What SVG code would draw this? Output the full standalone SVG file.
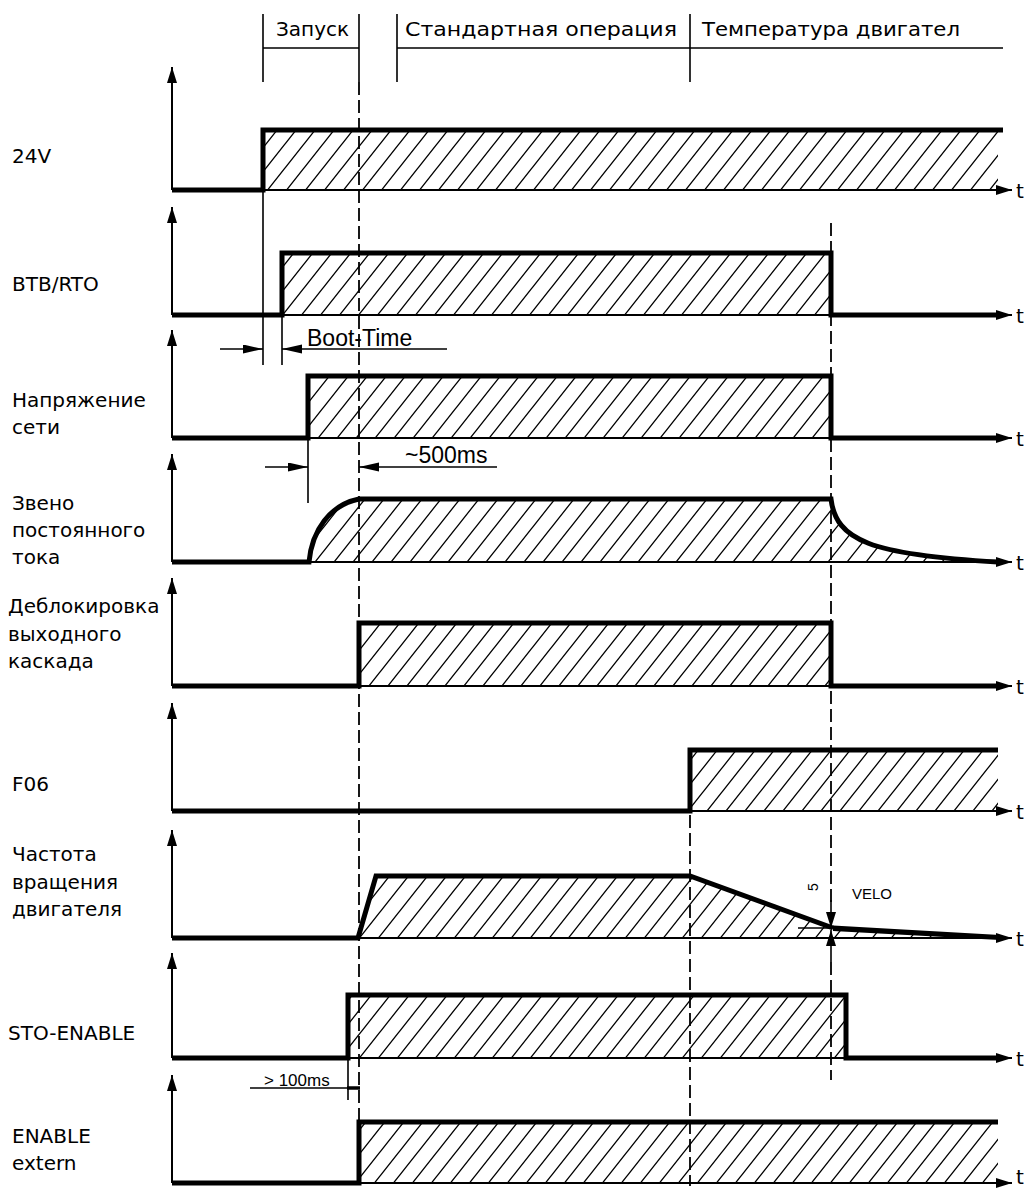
<svg xmlns="http://www.w3.org/2000/svg" width="1029" height="1190" viewBox="0 0 1029 1190">
<style>
.lbl{font-family:"DejaVu Sans","Liberation Sans",sans-serif;font-size:20px;fill:#000}
.hdr{font-family:"DejaVu Sans","Liberation Sans",sans-serif;font-size:20px;fill:#000}
.dim{font-family:"Liberation Sans","DejaVu Sans",sans-serif;fill:#000}
.thin{stroke:#000;stroke-width:1.6;fill:none}
.axis{stroke:#000;stroke-width:2;fill:none}
.sig{stroke:#000;stroke-width:5;fill:none;stroke-linejoin:miter}
.hatch{fill:url(#hatch);stroke:none}
.dash{stroke:#000;stroke-width:1.8;fill:none;stroke-dasharray:13 5}
</style>
<defs>
<pattern id="hatch" patternUnits="userSpaceOnUse" width="19" height="24">
<path d="M-1,25.3 L20,-1.3 M-20,25.3 L1,-1.3 M18,25.3 L39,-1.3" stroke="#000" stroke-width="1.3"/>
</pattern>
<marker id="ah" markerUnits="userSpaceOnUse" markerWidth="18" markerHeight="12" refX="16" refY="5" orient="auto">
<path d="M0,0 L16,5 L0,10 z" fill="#000"/>
</marker>
<marker id="ahd" markerUnits="userSpaceOnUse" markerWidth="22" markerHeight="10" refX="20" refY="4.5" orient="auto">
<path d="M0,0 L20,4.5 L0,9 z" fill="#000"/>
</marker>
</defs>
<rect width="1029" height="1190" fill="#fff"/>

<g id="header">
<path class="thin" d="M263,14 V82 M359,14 V82 M397,14 V82 M690,14 V82 M263,48 H359 M397,48 H1003"/>
<text class="hdr" x="276" y="36">Запуск</text>
<text class="hdr" x="405" y="36" textLength="272" lengthAdjust="spacingAndGlyphs">Стандартная  операция</text>
<text class="hdr" x="702" y="36" textLength="258" lengthAdjust="spacingAndGlyphs">Температура  двигател</text>
</g>

<g id="row-24V">
<polygon class="hatch" points="263,130 998,130 998,190 263,190"/>
<line class="axis" x1="172" y1="190" x2="172" y2="67" marker-end="url(#ah)"/>
<line class="axis" x1="172" y1="190" x2="1012" y2="190" marker-end="url(#ah)"/>
<path class="sig" d="M172,190 H263 V130 H1003"/>
<text class="lbl" x="12" y="163">24V</text>
<text class="lbl" x="1016" y="198" font-size="22">t</text>
</g>

<g id="row-BTB">
<polygon class="hatch" points="282,253 831,253 831,315 282,315"/>
<line class="axis" x1="172" y1="315" x2="172" y2="207" marker-end="url(#ah)"/>
<line class="axis" x1="172" y1="315" x2="1012" y2="315" marker-end="url(#ah)"/>
<path class="sig" d="M172,315 H282 V253 H831 V315 H998"/>
<text class="lbl" x="12" y="291">BTB/RTO</text>
<text class="lbl" x="1016" y="323" font-size="22">t</text>
</g>

<g id="row-netz">
<polygon class="hatch" points="308,376 831,376 831,438 308,438"/>
<line class="axis" x1="172" y1="438" x2="172" y2="330" marker-end="url(#ah)"/>
<line class="axis" x1="172" y1="438" x2="1012" y2="438" marker-end="url(#ah)"/>
<path class="sig" d="M172,438 H308 V376 H831 V438 H998"/>
<text class="lbl" x="12" y="407">Напряжение</text>
<text class="lbl" x="12" y="434">сети</text>
<text class="lbl" x="1016" y="446" font-size="22">t</text>
</g>

<g id="row-dc">
<path class="hatch" d="M309,562 C312,530 330,505 359,499 H831 C836,540 870,555 998,562 Z"/>
<line class="axis" x1="172" y1="562" x2="172" y2="454" marker-end="url(#ah)"/>
<line class="axis" x1="172" y1="562" x2="1012" y2="562" marker-end="url(#ah)"/>
<path class="sig" d="M172,562 H309 C312,530 330,505 359,499 H831 C836,540 870,555 998,562"/>
<text class="lbl" x="12" y="510">Звено</text>
<text class="lbl" x="12" y="537">постоянного</text>
<text class="lbl" x="12" y="564">тока</text>
<text class="lbl" x="1016" y="570" font-size="22">t</text>
</g>

<g id="row-enable-stage">
<polygon class="hatch" points="359,623 831,623 831,686 359,686"/>
<line class="axis" x1="172" y1="686" x2="172" y2="578" marker-end="url(#ah)"/>
<line class="axis" x1="172" y1="686" x2="1012" y2="686" marker-end="url(#ah)"/>
<path class="sig" d="M172,686 H359 V623 H831 V686 H998"/>
<text class="lbl" x="8" y="613">Деблокировка</text>
<text class="lbl" x="8" y="641">выходного</text>
<text class="lbl" x="8" y="668">каскада</text>
<text class="lbl" x="1016" y="694" font-size="22">t</text>
</g>

<g id="row-F06">
<polygon class="hatch" points="690,750 998,750 998,811 690,811"/>
<line class="axis" x1="172" y1="811" x2="172" y2="703" marker-end="url(#ah)"/>
<line class="axis" x1="172" y1="811" x2="1012" y2="811" marker-end="url(#ah)"/>
<path class="sig" d="M172,811 H690 V750 H998"/>
<text class="lbl" x="12" y="791">F06</text>
<text class="lbl" x="1016" y="819" font-size="22">t</text>
</g>

<g id="row-speed">
<polygon class="hatch" points="358,938 376,876 690,876 833,928 998,938"/>
<line class="axis" x1="172" y1="938" x2="172" y2="830" marker-end="url(#ah)"/>
<line class="axis" x1="172" y1="938" x2="1012" y2="938" marker-end="url(#ah)"/>
<path class="sig" d="M172,938 H358 L376,876 H690 L833,928"/>
<polygon points="833,925.5 1000,935 1000,940 833,931" fill="#000"/>
<text class="lbl" x="12" y="861">Частота</text>
<text class="lbl" x="12" y="889">вращения</text>
<text class="lbl" x="12" y="916">двигателя</text>
<text class="lbl" x="1016" y="946" font-size="22">t</text>
</g>

<g id="row-STO">
<polygon class="hatch" points="348,995 846,995 846,1058 348,1058"/>
<line class="axis" x1="172" y1="1058" x2="172" y2="953" marker-end="url(#ah)"/>
<line class="axis" x1="172" y1="1058" x2="1012" y2="1058" marker-end="url(#ah)"/>
<path class="sig" d="M172,1058 H348 V995 H846 V1058 H998"/>
<text class="lbl" x="8" y="1040">STO-ENABLE</text>
<text class="lbl" x="1016" y="1066" font-size="22">t</text>
</g>

<g id="row-enable-extern">
<polygon class="hatch" points="359,1122 998,1122 998,1183 359,1183"/>
<line class="axis" x1="172" y1="1183" x2="172" y2="1075" marker-end="url(#ah)"/>
<line class="axis" x1="172" y1="1183" x2="1012" y2="1183" marker-end="url(#ah)"/>
<path class="sig" d="M172,1183 H359 V1122 H998"/>
<text class="lbl" x="12" y="1143">ENABLE</text>
<text class="lbl" x="12" y="1170">extern</text>
<text class="lbl" x="1016" y="1184" font-size="20">t</text>
</g>

<g id="connectors">
<path class="dash" d="M359,82 V1122"/>
<path class="dash" d="M831,223 V905"/>
<path class="dash" d="M831,962 V1080"/>
<path class="dash" d="M690,815 V1186"/>
<path class="thin" d="M263,130 V365 M282,315 V365 M308,438 V503 M348,1058 V1100"/>
<line class="thin" x1="220" y1="349" x2="263" y2="349" marker-end="url(#ahd)"/>
<line class="thin" x1="447" y1="349" x2="282" y2="349" marker-end="url(#ahd)"/>
<text class="dim" x="307" y="346" font-size="23">Boot-Time</text>
<line class="thin" x1="265" y1="467" x2="308" y2="467" marker-end="url(#ahd)"/>
<line class="thin" x1="497" y1="467" x2="359" y2="467" marker-end="url(#ahd)"/>
<text class="dim" x="405" y="463" font-size="23">~500ms</text>
<line class="thin" x1="250" y1="1088" x2="348" y2="1088"/>
<line x1="347" y1="1088" x2="360" y2="1088" stroke="#000" stroke-width="3.5"/>
<text class="dim" x="264" y="1086" font-size="17">&gt; 100ms</text>
<line class="thin" x1="798" y1="928" x2="855" y2="928"/>
<line class="thin" x1="831" y1="900" x2="831" y2="928" marker-end="url(#ah)"/>
<line class="thin" x1="831" y1="962" x2="831" y2="930" marker-end="url(#ah)"/>
<text class="dim" x="818" y="887" font-size="14" transform="rotate(-90 818 887)" text-anchor="middle">5</text>
<text class="dim" x="852" y="899" font-size="15">VELO</text>
</g>
</svg>
